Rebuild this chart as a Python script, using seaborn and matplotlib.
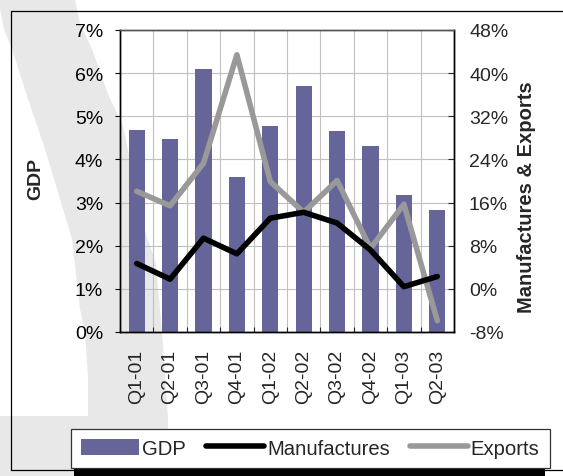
import numpy as np
import pandas as pd
import matplotlib
matplotlib.use("Agg")
import matplotlib.pyplot as plt
from matplotlib.patches import Polygon, Rectangle, Patch
from matplotlib.lines import Line2D
from matplotlib.ticker import PercentFormatter, FixedLocator, MultipleLocator
import seaborn as sns

# ---- data -------------------------------------------------------------
quarters = ["Q1-01", "Q2-01", "Q3-01", "Q4-01", "Q1-02",
            "Q2-02", "Q3-02", "Q4-02", "Q1-03", "Q2-03"]
gdp = [4.69, 4.48, 6.10, 3.60, 4.78, 5.71, 4.66, 4.32, 3.18, 2.83]          # % (left axis)
manufactures = [4.7, 1.8, 9.4, 6.5, 13.1, 14.2, 12.2, 7.2, 0.4, 2.3]        # % (right axis)
exports = [18.1, 15.4, 23.3, 43.4, 19.9, 14.2, 20.1, 7.5, 15.7, -5.9]       # % (right axis)

df = pd.DataFrame({"quarter": quarters, "gdp": gdp,
                   "manufactures": manufactures, "exports": exports})

# ---- style ------------------------------------------------------------
sns.set_style("white")
plt.rcParams["font.family"] = ["Liberation Sans", "DejaVu Sans"]
plt.rcParams["axes.unicode_minus"] = False

BAR = "#656599"
GREY_LINE = "#999999"
GRID = "#c0c0c0"
TICK_FS = 14

W, H = 563, 477
fig = plt.figure(figsize=(W / 100, H / 100), dpi=100)
fig.patch.set_facecolor("white")


def px(x, y):
    """pixel position (from top-left) -> figure fraction"""
    return (x / W, 1 - y / H)


# decorative grey sweep behind the chart
band_px = [(0, 0), (75, 0), (80, 25), (92, 50), (108, 95), (123, 127),
           (145, 232), (156, 265), (162, 333), (168, 420), (168, 477),
           (0, 477), (0, 417), (88, 417), (88, 378), (85, 333), (80, 310),
           (72, 240), (60, 200), (45, 150), (28, 100), (12, 50), (4, 30), (0, 10)]
fig.patches.append(Polygon([px(*p) for p in band_px], closed=True,
                           transform=fig.transFigure, facecolor="#e8e8e8",
                           edgecolor="none", zorder=-3))

# outer chart frame
for xs, ys in [((11, 11), (12, 471)), ((11, 563), (12, 12)), ((11, 563), (471, 471))]:
    fig.lines.append(Line2D([xs[0] / W, xs[1] / W], [1 - ys[0] / H, 1 - ys[1] / H],
                            transform=fig.transFigure, color="black", lw=0.9, zorder=-2))

# ---- axes ---------------------------------------------------------------
ax = fig.add_axes([120 / W, 1 - 333 / H, 334 / W, 302 / H])
ax.set_facecolor("none")

sns.barplot(data=df, x="quarter", y="gdp", ax=ax, color=BAR, saturation=1,
            width=0.48, linewidth=0, order=quarters)

n = len(quarters)
ax.set_xlim(-0.5, n - 0.5)
ax.set_ylim(0, 7)
ax.yaxis.set_major_locator(MultipleLocator(1))
ax.yaxis.set_major_formatter(PercentFormatter(xmax=100, decimals=0))
ax.xaxis.set_minor_locator(FixedLocator(np.arange(n + 1) - 0.5))
ax.set_axisbelow(True)
ax.grid(True, axis="y", color=GRID, lw=0.8)
ax.grid(True, axis="x", which="minor", color=GRID, lw=0.8)
ax.set_xlabel("")
ax.set_ylabel("")

ax.tick_params(axis="y", direction="out", length=3.6, width=0.8, pad=8.5,
               labelsize=TICK_FS, colors="black", left=True)
ax.tick_params(axis="x", which="major", length=0, pad=12, labelsize=TICK_FS,
               labelrotation=90)
ax.tick_params(axis="x", which="minor", direction="in", length=3.6, width=0.8,
               bottom=True)

ax2 = ax.twinx()
sns.lineplot(x=quarters, y=exports, ax=ax2, color=GREY_LINE, lw=4, sort=False)
sns.lineplot(x=quarters, y=manufactures, ax=ax2, color="black", lw=4, sort=False)
ax2.set_ylim(-8, 48)
ax2.yaxis.set_major_locator(MultipleLocator(8))
ax2.yaxis.set_major_formatter(PercentFormatter(xmax=100, decimals=0))
ax2.tick_params(axis="y", direction="in", length=4.3, width=0.8, pad=10.8,
                labelsize=TICK_FS, right=True)
ax2.set_ylabel("")
ax2.set_xlim(-0.5, n - 0.5)

for a in (ax, ax2):
    for side, sp in a.spines.items():
        sp.set_visible(True)
        sp.set_linewidth(1.0)
        sp.set_color("#555555" if side == "top" else "black")

# axis titles
fig.text(*px(36, 179), "GDP", rotation=90, ha="center", va="center",
         fontsize=14, fontweight="bold")
fig.text(*px(527, 197), "Manufactures & Exports", rotation=90, ha="center",
         va="center", fontsize=14.5, fontweight="bold")

# ---- legend with a solid drop shadow ------------------------------------
fig.patches.append(Rectangle(px(74, 477), 471 / W, 44 / H, transform=fig.transFigure,
                             facecolor="black", edgecolor="none", zorder=4))
handles = [Patch(facecolor=BAR, edgecolor="none"),
           Line2D([], [], color="black", lw=4),
           Line2D([], [], color=GREY_LINE, lw=4)]
leg = fig.legend(handles, ["GDP", "Manufactures", "Exports"], loc="lower left",
                 bbox_to_anchor=px(71, 469), ncol=3, frameon=True, fancybox=False,
                 framealpha=1, edgecolor="#333333", fontsize=14.6, handlelength=2.85,
                 handleheight=0.8, handletextpad=0.15, columnspacing=1.0,
                 borderpad=0.5, borderaxespad=0)
leg.get_frame().set_linewidth(0.9)
leg.set_zorder(5)

fig.savefig("out.png", dpi=100)
